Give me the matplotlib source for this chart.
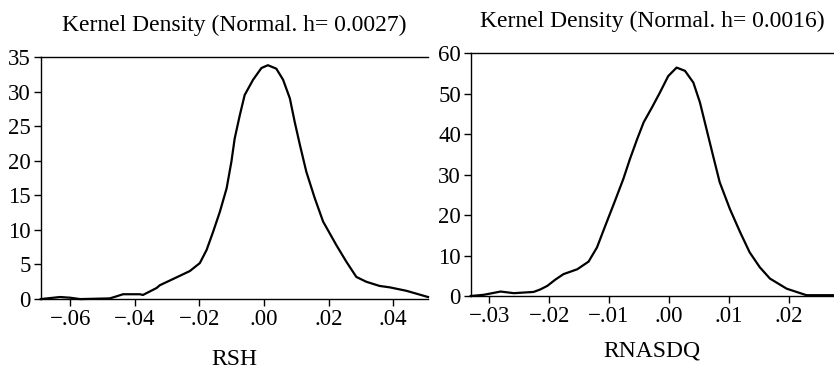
import matplotlib
matplotlib.use("Agg")
import matplotlib.pyplot as plt

plt.rcParams['font.family'] = ['Liberation Serif', 'DejaVu Serif']

# RSH kernel density
rsh_x = [-0.0692, -0.0632, -0.0601, -0.0570, -0.0478, -0.0457, -0.0437, -0.0385,
         -0.0375, -0.0333, -0.0323, -0.0282, -0.0230, -0.0199, -0.0178, -0.0158,
         -0.0137, -0.0116, -0.0101, -0.0091, -0.0075, -0.0060, -0.0034, -0.0008,
         0.0012, 0.0038, 0.0059, 0.0080, 0.0095, 0.0111, 0.0131, 0.0157,
         0.0183, 0.0224, 0.0255, 0.0286, 0.0317, 0.0358, 0.0389, 0.0441, 0.0508]
rsh_y = [0.0, 0.3, 0.2, 0.0, 0.1, 0.4, 0.7, 0.7,
         0.6, 1.6, 2.0, 2.9, 4.05, 5.2, 7.1, 9.7,
         12.6, 16.0, 19.9, 23.2, 26.6, 29.5, 31.7, 33.4,
         33.8, 33.3, 31.7, 29.0, 25.6, 22.3, 18.4, 14.6,
         11.2, 7.8, 5.4, 3.2, 2.5, 1.9, 1.7, 1.2, 0.3]

# RNASDQ kernel density
nas_x = [-0.0331, -0.0309, -0.0281, -0.0259, -0.0226, -0.0215, -0.0203, -0.0190,
         -0.0176, -0.0153, -0.0134, -0.0120, -0.0106, -0.0092, -0.0076, -0.0065,
         -0.0053, -0.0042, -0.0028, -0.0015, -0.0001, 0.0013, 0.0027, 0.0041,
         0.0052, 0.0063, 0.0074, 0.0085, 0.0102, 0.0119, 0.0135, 0.0152,
         0.0169, 0.0197, 0.0230, 0.0276]
nas_y = [0.0, 0.3, 1.1, 0.7, 1.0, 1.6, 2.5, 4.0,
         5.4, 6.6, 8.5, 12.0, 17.4, 22.7, 28.9, 33.8,
         38.7, 42.9, 46.6, 50.2, 54.3, 56.4, 55.6, 52.7,
         47.8, 41.2, 34.6, 28.1, 21.5, 15.8, 10.8, 7.1,
         4.3, 1.8, 0.2, 0.2]

rsh_ticks = [-0.06, -0.04, -0.02, 0.00, 0.02, 0.04]
rsh_ticklabels = ['\u2212.06', '\u2212.04', '\u2212.02', '.00', '.02', '.04']
nas_ticks = [-0.03, -0.02, -0.01, 0.00, 0.01, 0.02]
nas_ticklabels = ['\u2212.03', '\u2212.02', '\u2212.01', '.00', '.01', '.02']

fig = plt.figure(figsize=(8.34, 3.72), dpi=100)
ax1 = fig.add_axes([0.0488, 0.196, 0.4644, 0.651])
ax2 = fig.add_axes([0.5644, 0.2043, 0.4356, 0.6532])


def style_axis(ax):
    ax.spines['right'].set_visible(False)
    for s in ['left', 'top', 'bottom']:
        ax.spines[s].set_linewidth(1.0)
    ax.tick_params(direction='out', length=5, width=1.0, labelsize=16.5, pad=2)


ax1.plot(rsh_x, rsh_y, color='black', lw=1.6, clip_on=False)
ax1.set_xlim(-0.0692, 0.0508)
ax1.set_ylim(0, 35)
ax1.set_yticks([0, 5, 10, 15, 20, 25, 30, 35])
ax1.set_xticks(rsh_ticks)
ax1.set_xticklabels(rsh_ticklabels)
style_axis(ax1)
ax1.set_title('Kernel Density (Normal. h= 0.0027)', fontsize=17, pad=19)
ax1.set_xlabel('RSH', fontsize=17, labelpad=14)

ax2.plot(nas_x, nas_y, color='black', lw=1.6, clip_on=False)
ax2.set_xlim(-0.0331, 0.0276)
ax2.set_ylim(0, 60)
ax2.set_yticks([0, 10, 20, 30, 40, 50, 60])
ax2.set_xticks(nas_ticks)
ax2.set_xticklabels(nas_ticklabels)
style_axis(ax2)
ax2.set_title('Kernel Density (Normal. h= 0.0016)', fontsize=17, pad=19)
ax2.set_xlabel('RNASDQ', fontsize=17, labelpad=10)

fig.savefig('out.png', dpi=100)
